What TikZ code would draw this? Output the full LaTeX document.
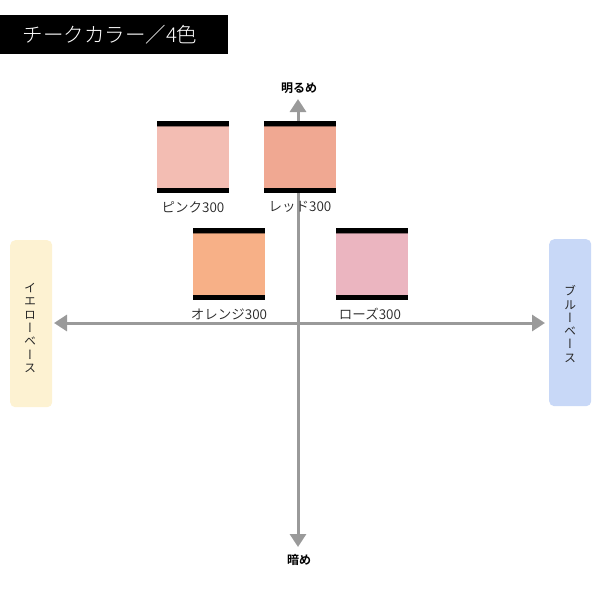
\documentclass[tikz,border=0pt]{standalone}
\usepackage{fontspec}
\setmainfont{Noto Sans CJK JP DemiLight}
\newfontfamily\jpl{Noto Sans CJK JP Light}
\newfontfamily\jpb{Noto Sans CJK JP Bold}
\newfontfamily\jpv[RawFeature=+vert]{Noto Sans CJK JP}
\usetikzlibrary{arrows.meta,calc}
\definecolor{axisgray}{HTML}{9A9A9A}
\definecolor{yellowbase}{HTML}{FDF2D2}
\definecolor{bluebase}{HTML}{C8D8F7}
\definecolor{cpink}{HTML}{F3BDB3}
\definecolor{cred}{HTML}{F0A892}
\definecolor{corange}{HTML}{F7B087}
\definecolor{crose}{HTML}{EBB5C0}
\tikzset{
  axis/.style={draw=axisgray, line width=3pt, -{Triangle[length=13pt,width=16pt]}},
  basebox/.style={rounded corners=5pt, minimum width=42pt, minimum height=167pt, inner sep=0pt},
  swlabel/.style={font=\fontsize{13.5}{14}\selectfont, inner sep=0pt, text=black!85},
  axlabel/.style={font=\jpb\fontsize{12}{12}\selectfont, inner sep=0pt},
  vtext/.style={font=\jpv\fontsize{12}{13.3}\selectfont, align=center, inner sep=0pt, text=black!85}
}
\newcommand{\swatch}[4]{% name, left x, top y, color
  \fill[#4] (#2,#3) rectangle ++(72,72);
  \fill[black] (#2,#3) rectangle ++(72,5);
  \fill[#4!60!black] (#2,#3+5) rectangle ++(72,1.2);
  \fill[black] (#2,#3+67) rectangle ++(72,5);
  \coordinate (#1) at ($(#2,#3)+(36,72)$);
}
\begin{document}
\begin{tikzpicture}[x=1pt,y=-1pt]
\useasboundingbox (0,0) rectangle (600,600);
% title
\node[fill=black, minimum width=228pt, minimum height=39pt, inner sep=0pt, anchor=north west] (title) at (0,15) {};
\node[text=white, font=\jpl\fontsize{20.5}{22}\selectfont, inner sep=0pt] (titletext) at (110,35) {チークカラー／4色};
% axis end labels
\node[axlabel] (bright) at (299,88) {明るめ};
\node[axlabel] (dark) at (299,560) {暗め};
\coordinate (vtop) at (298,99);
\coordinate (vbot) at (298,547);
\coordinate (hleft) at (54,323);
\coordinate (hright) at (545,323);
\coordinate (center) at (298,323);
% base boxes
\node[basebox, fill=yellowbase, anchor=north west] (yellow) at (10,240) {};
\node[vtext] at (30,328) {イ\\エ\\ロ\\ー\\ベ\\ー\\ス};
\node[basebox, fill=bluebase, anchor=north west] (blue) at (549,239) {};
\node[vtext] at (570,324) {ブ\\ル\\ー\\ベ\\ー\\ス};
% axes
\draw[axis] (center) -- (vtop);
\draw[axis] (center) -- (vbot);
\draw[axis] (center) -- (hleft);
\draw[axis] (center) -- (hright);
% swatches
\swatch{pinkb}{157}{121}{cpink}
\swatch{redb}{264}{121}{cred}
\swatch{orangeb}{193}{228}{corange}
\swatch{roseb}{336}{228}{crose}
\node[swlabel] (pinkl) at (193,207) {ピンク300};
\node[swlabel] (redl) at (300,207) {レッド300};
\node[swlabel] (orangel) at (229,314) {オレンジ300};
\node[swlabel] (rosel) at (370,314) {ローズ300};
\end{tikzpicture}
\end{document}
